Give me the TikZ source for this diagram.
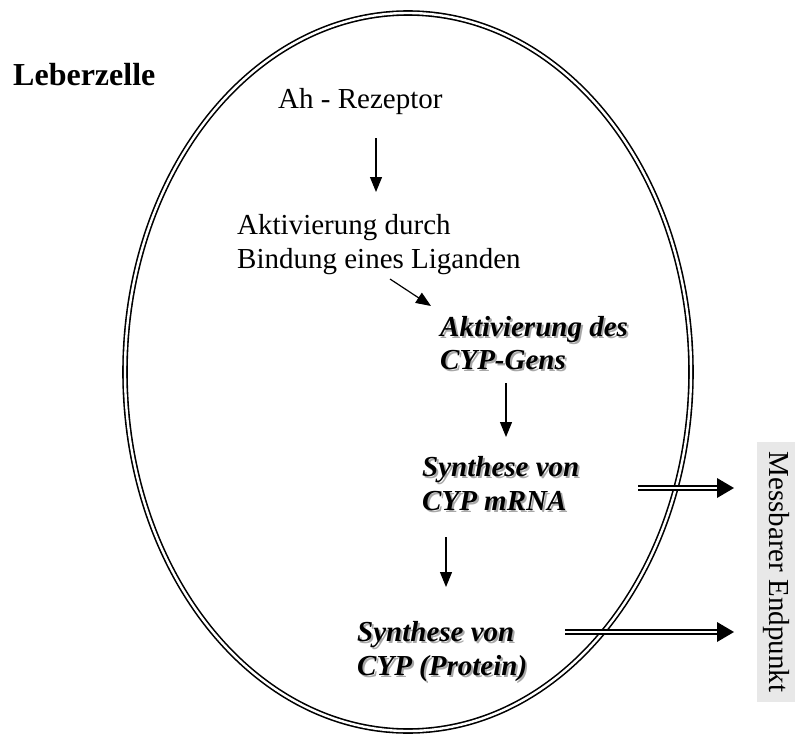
\documentclass[tikz,border=0pt]{standalone}
\usepackage{fontspec}
\setmainfont{Liberation Serif}
\usetikzlibrary{arrows.meta}
\definecolor{boxgray}{HTML}{E8E8E8}
\definecolor{shadowgray}{HTML}{A8A8A8}
\newcommand{\shadowtxt}[1]{\makebox[0pt][l]{\hspace{2pt}\raisebox{-2pt}{\textcolor{shadowgray}{#1}}}#1}
\begin{document}
\begin{tikzpicture}[x=1pt,y=-1pt,
  txt/.style={inner sep=0pt, anchor=base west, font=\fontsize{29}{33}\selectfont},
  bt/.style={inner sep=0pt, anchor=base west, font=\fontsize{29}{33}\selectfont\bfseries\itshape},
  arr/.style={line width=1.2pt, -{Triangle[length=15pt,width=12pt]}},
  dbl/.style={double, double distance=2.4pt, line width=1.6pt},
  dblarr/.style={double, double distance=2.4pt, line width=1.8pt, shorten >=15pt},
  tipfill/.style={fill=black}]
\useasboundingbox (0,0) rectangle (795,736);

% cell
\draw[dbl] (408,372) ellipse [x radius=283pt, y radius=359pt];

\node[inner sep=0pt, anchor=base west, font=\fontsize{32}{36}\selectfont\bfseries] (title) at (13,85) {Leberzelle};

\node[txt] (ah) at (278,108) {Ah - Rezeptor};
\node[txt] (akt1) at (237,234) {Aktivierung durch};
\node[txt] (akt2) at (237,268) {Bindung eines Liganden};

\node[bt] (gen1) at (440,336) {\shadowtxt{Aktivierung des}};
\node[bt] (gen2) at (440,369) {\shadowtxt{CYP-Gens}};

\node[bt] (mr1) at (422,476) {\shadowtxt{Synthese von}};
\node[bt] (mr2) at (422,510) {\shadowtxt{CYP mRNA}};

\node[bt] (pr1) at (357,641) {\shadowtxt{Synthese von}};
\node[bt] (pr2) at (357,675) {\shadowtxt{CYP (Protein)}};

\node[rotate=-90, fill=boxgray, inner xsep=10pt, inner ysep=0pt, minimum height=38pt,
      font=\fontsize{29}{33}\selectfont] (mb) at (776,572) {Messbarer Endpunkt};

% arrows
\coordinate (a1s) at (376,138);
\coordinate (a1e) at (376,192);
\coordinate (a2s) at (390,279);
\coordinate (a2e) at (431,306);
\coordinate (a3s) at (506,383);
\coordinate (a3e) at (506,437);
\coordinate (a4s) at (446,537);
\coordinate (a4e) at (446,587);
\draw[arr] (a1s) -- (a1e);
\draw[arr] (a2s) -- (a2e);
\draw[arr] (a3s) -- (a3e);
\draw[arr] (a4s) -- (a4e);

% double arrows to endpoint
\coordinate (d1s) at (638,488);
\coordinate (d1e) at (734,488);
\coordinate (d2s) at (565,632);
\coordinate (d2e) at (734,632);
\draw[dblarr] (d1s) -- (d1e);
\fill[tipfill] (d1e) -- ++(-17,-10) -- ++(0,20) -- cycle;
\draw[dblarr] (d2s) -- (d2e);
\fill[tipfill] (d2e) -- ++(-17,-10) -- ++(0,20) -- cycle;
\end{tikzpicture}
\end{document}
